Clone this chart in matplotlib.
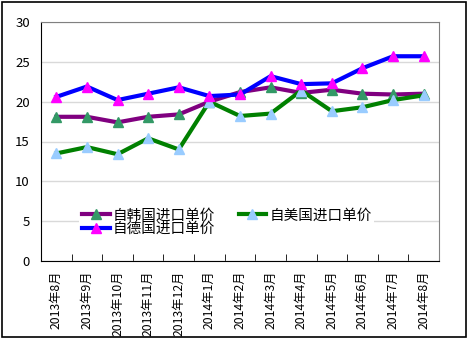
import matplotlib
matplotlib.use("Agg")
import matplotlib.pyplot as plt
from matplotlib.patches import Rectangle
from matplotlib.ticker import FixedLocator

plt.rcParams['font.family'] = ['Noto Sans CJK SC', 'DejaVu Sans']

months = ["2013年8月", "2013年9月", "2013年10月", "2013年11月", "2013年12月",
          "2014年1月", "2014年2月", "2014年3月", "2014年4月", "2014年5月",
          "2014年6月", "2014年7月", "2014年8月"]
korea = [18.1, 18.1, 17.4, 18.1, 18.4, 20.0, 21.2, 21.8, 21.1, 21.5, 21.0, 20.9, 21.0]
usa = [13.5, 14.3, 13.4, 15.4, 14.0, 20.0, 18.2, 18.5, 21.4, 18.8, 19.3, 20.2, 20.8]
germany = [20.6, 21.9, 20.2, 21.0, 21.8, 20.7, 20.9, 23.2, 22.2, 22.3, 24.2, 25.7, 25.7]

x = range(len(months))

fig = plt.figure(figsize=(4.69, 3.41), dpi=100)
ax = fig.add_axes([41/469, 80/341, 398/469, 239/341])

ax.grid(axis="y", color="#d9d9d9", lw=1)
ax.set_axisbelow(True)

l1, = ax.plot(x, korea, color="#800080", lw=3, marker="^", ms=7.5,
              mfc="#339966", mec="#339966", label="自韩国进口单价")
l2, = ax.plot(x, usa, color="#008000", lw=3, marker="^", ms=7.5,
              mfc="#99ccff", mec="#99ccff", label="自美国进口单价")
l3, = ax.plot(x, germany, color="#0000ff", lw=3, marker="^", ms=7.5,
              mfc="#ff00ff", mec="#ff00ff", label="自德国进口单价")

ax.set_ylim(0, 30)
ax.set_yticks(range(0, 31, 5))
ax.set_xlim(-0.5, len(months) - 0.5)
ax.set_xticks(list(x))
ax.set_xticklabels(months, rotation=90, fontsize=8.8)
ax.xaxis.set_minor_locator(FixedLocator([i + 0.5 for i in range(len(months) - 1)]))
ax.tick_params(axis="x", which="major", length=0, pad=7)
ax.tick_params(axis="x", which="minor", direction="in", length=5, color="black")
ax.tick_params(axis="y", length=0, labelsize=9.5, pad=8)

for s in ["top", "right"]:
    ax.spines[s].set_color("#808080")
for s in ["left", "bottom"]:
    ax.spines[s].set_color("black")

leg = ax.legend(handles=[l1, l3, l2], ncol=2, loc="center",
                bbox_to_anchor=(0.467, 0.163), fontsize=10.5,
                frameon=True, facecolor="white", edgecolor="none", framealpha=1,
                fancybox=False, labelspacing=-0.05, handlelength=1.9,
                handletextpad=0.2, columnspacing=1.6, borderpad=0.2)

fig.patches.append(Rectangle((2/469, 4/341), 464/469, 335/341, transform=fig.transFigure,
                             fill=False, edgecolor="black", lw=1.2))

fig.savefig("out.png", dpi=100)
